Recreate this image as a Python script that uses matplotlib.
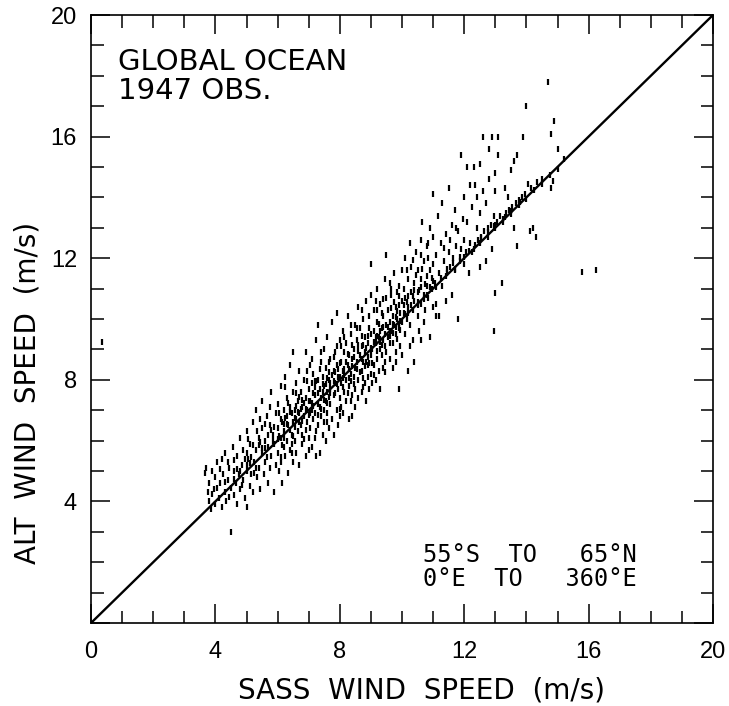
import matplotlib
matplotlib.use("Agg")
import matplotlib.pyplot as plt
import numpy as np

# (SASS wind speed, ALT wind speed) in m/s
obs_low = [
    (3.65, 4.95), (3.7, 5.1), (3.75, 4.3), (3.8, 4.0), (3.8, 4.6), (3.85, 3.75), (3.9, 5.0),
    (3.95, 4.4), (4.0, 3.9), (4.0, 4.8), (4.05, 5.3), (4.1, 4.1), (4.15, 4.6), (4.2, 5.4),
    (4.2, 3.8), (4.25, 4.9), (4.3, 4.3), (4.3, 5.6), (4.35, 4.0), (4.4, 4.7), (4.45, 5.1),
    (4.5, 4.45), (4.55, 5.8), (4.6, 4.2), (4.6, 5.0), (4.65, 4.6), (4.7, 5.5), (4.7, 3.9),
    (4.75, 4.9), (4.8, 6.1), (4.8, 4.4), (4.85, 5.2), (4.9, 4.7), (4.9, 5.7), (4.95, 4.1),
    (5.0, 5.0), (5.0, 6.3), (5.0, 3.8), (5.05, 5.4), (5.1, 4.5), (5.1, 5.9), (5.15, 4.9),
    (5.2, 6.6), (5.2, 4.3), (5.25, 5.3), (5.3, 5.7), (5.3, 7.0), (5.35, 4.8), (5.4, 6.1),
    (5.4, 5.1), (5.45, 4.4), (5.5, 5.6), (5.5, 6.4), (5.5, 7.3), (5.55, 4.9), (5.6, 5.3),
    (5.6, 6.0), (5.65, 6.8), (5.7, 4.6), (5.7, 5.8), (5.75, 5.1), (5.75, 6.5), (5.8, 7.6),
    (5.8, 5.5), (5.85, 6.2), (5.9, 4.3), (5.9, 5.9), (5.95, 6.9), (5.95, 5.2), (4.05, 4.45),
    (4.45, 4.15), (4.85, 4.55), (5.25, 4.95), (5.65, 5.45), (3.9, 4.25), (4.3, 4.65),
    (4.7, 5.05), (5.1, 5.25), (5.5, 5.75), (5.85, 6.0), (4.6, 5.35), (5.0, 5.6), (5.4, 5.85),
    (5.8, 6.35), (4.15, 5.05), (5.2, 5.85), (5.6, 6.55), (4.95, 5.4), (5.35, 6.3),
    (5.75, 7.1), (5.45, 6.7), (5.05, 6.05), (4.4, 5.3),
]

obs_mid = [
    (6.0, 5.6), (6.0, 6.4), (6.0, 7.2), (6.05, 5.0), (6.05, 6.9), (6.1, 6.1), (6.1, 7.8),
    (6.1, 5.3), (6.15, 6.6), (6.15, 4.6), (6.2, 5.8), (6.2, 7.0), (6.2, 6.3), (6.25, 8.1),
    (6.25, 5.5), (6.3, 6.8), (6.3, 6.0), (6.3, 7.4), (6.35, 4.95), (6.35, 6.5), (6.4, 5.7),
    (6.4, 7.1), (6.4, 8.5), (6.45, 6.2), (6.45, 6.9), (6.5, 5.3), (6.5, 7.6), (6.5, 6.6),
    (6.5, 8.9), (6.05, 6.15), (6.15, 5.85), (6.25, 6.75), (6.35, 7.25), (6.45, 5.9),
    (6.2, 6.55), (6.4, 6.35),
    (6.55, 6.0), (6.55, 7.0), (6.6, 5.6), (6.6, 6.7), (6.6, 7.9), (6.65, 6.3), (6.65, 7.3),
    (6.7, 5.2), (6.7, 6.9), (6.7, 8.3), (6.75, 6.5), (6.75, 7.6), (6.8, 5.9), (6.8, 7.1),
    (6.8, 6.2), (6.85, 8.0), (6.85, 6.8), (6.9, 5.5), (6.9, 7.4), (6.9, 8.9), (6.95, 6.6),
    (6.95, 7.0), (7.0, 6.1), (7.0, 7.7), (7.0, 5.7), (6.6, 7.15), (6.7, 7.45), (6.8, 6.65),
    (6.9, 6.35), (6.75, 7.05), (6.85, 7.25), (6.55, 6.45), (7.0, 6.85), (6.95, 7.95),
    (7.05, 6.4), (7.05, 7.3), (7.05, 8.5), (7.1, 5.8), (7.1, 7.0), (7.1, 7.9), (7.15, 6.7),
    (7.15, 8.2), (7.2, 6.1), (7.2, 7.5), (7.2, 6.9), (7.25, 9.3), (7.25, 5.5), (7.3, 7.2),
    (7.3, 8.0), (7.3, 6.5), (7.3, 9.8), (7.35, 7.7), (7.35, 5.6), (7.4, 6.8), (7.4, 8.6),
    (7.4, 7.4), (7.45, 6.2), (7.45, 8.1), (7.5, 7.0), (7.5, 7.8), (7.5, 6.6), (7.5, 9.0),
    (7.1, 7.25), (7.2, 7.75), (7.3, 6.85), (7.4, 7.05), (7.45, 7.6), (7.25, 7.95),
    (7.15, 7.55), (7.35, 8.35),
    (7.55, 7.3), (7.55, 8.4), (7.55, 6.0), (7.6, 7.6), (7.6, 6.9), (7.6, 9.4), (7.65, 8.0),
    (7.65, 6.4), (7.7, 7.2), (7.7, 8.7), (7.7, 7.9), (7.75, 6.7), (7.75, 9.9), (7.8, 7.5),
    (7.8, 8.3), (7.8, 6.2), (7.85, 7.9), (7.85, 8.9), (7.9, 7.0), (7.9, 8.5), (7.9, 10.2),
    (7.95, 7.7), (7.95, 6.5), (8.0, 8.1), (8.0, 7.4), (8.0, 9.3), (8.0, 6.8), (7.6, 8.05),
    (7.7, 7.55), (7.8, 8.75), (7.9, 7.85), (7.65, 7.45), (7.75, 8.15), (7.85, 8.25),
    (7.95, 8.35), (7.55, 7.85),
    (8.05, 7.9), (8.05, 8.6), (8.05, 7.1), (8.1, 8.3), (8.1, 9.6), (8.1, 6.9), (8.15, 7.6),
    (8.15, 8.9), (8.2, 8.0), (8.2, 7.3), (8.2, 9.2), (8.25, 8.5), (8.25, 10.1), (8.3, 7.8),
    (8.3, 8.8), (8.3, 6.7), (8.35, 8.2), (8.35, 9.5), (8.4, 7.5), (8.4, 8.7), (8.4, 6.8),
    (8.45, 9.0), (8.45, 8.1), (8.5, 7.7), (8.5, 8.4), (8.5, 9.8), (8.5, 7.1), (8.1, 8.05),
    (8.2, 8.6), (8.3, 8.35), (8.4, 9.15), (8.15, 8.35), (8.35, 7.95), (8.45, 8.75),
    (8.25, 7.55), (8.05, 9.1),
    (8.55, 8.6), (8.55, 9.3), (8.6, 8.0), (8.6, 10.4), (8.6, 7.4), (8.65, 8.8), (8.65, 9.7),
    (8.7, 8.3), (8.7, 7.6), (8.7, 9.1), (8.75, 8.6), (8.75, 10.0), (8.8, 7.9), (8.8, 9.4),
    (8.8, 8.9), (8.85, 7.3), (8.85, 10.6), (8.9, 8.5), (8.9, 9.2), (8.9, 8.1), (8.95, 9.7),
    (8.95, 7.7), (9.0, 8.8), (9.0, 9.5), (9.0, 10.8), (9.0, 8.2), (8.6, 8.95), (8.7, 9.45),
    (8.8, 8.45), (8.9, 8.75), (8.65, 8.25), (8.75, 9.15), (8.85, 9.05), (8.95, 8.55),
    (9.0, 11.8),
    (9.05, 9.0), (9.05, 7.9), (9.1, 9.6), (9.1, 8.5), (9.1, 10.3), (9.15, 9.2), (9.15, 8.0),
    (9.2, 8.7), (9.2, 9.9), (9.2, 11.0), (9.25, 9.4), (9.25, 8.3), (9.3, 9.0), (9.3, 10.5),
    (9.3, 7.7), (9.35, 9.7), (9.35, 8.8), (9.4, 9.3), (9.4, 10.1), (9.4, 8.4), (9.45, 11.3),
    (9.45, 9.1), (9.5, 8.9), (9.5, 9.8), (9.5, 10.7), (9.5, 12.1), (9.1, 9.25), (9.2, 9.45),
    (9.3, 9.35), (9.4, 9.75), (9.15, 10.6), (9.35, 10.2), (9.45, 8.6), (9.25, 9.85),
    (9.55, 9.4), (9.55, 10.3), (9.6, 8.7), (9.6, 9.9), (9.6, 11.2), (9.65, 9.6), (9.65, 10.8),
    (9.7, 9.2), (9.7, 10.1), (9.7, 8.4), (9.75, 9.8), (9.75, 11.5), (9.8, 9.5), (9.8, 10.4),
    (9.8, 8.9), (9.85, 10.0), (9.85, 10.9), (9.9, 9.7), (9.9, 11.1), (9.9, 7.7), (9.95, 10.2),
    (9.95, 9.1), (10.0, 9.9), (10.0, 10.6), (10.0, 11.6), (10.0, 8.8), (9.6, 9.45),
    (9.7, 9.85), (9.8, 10.05), (9.9, 10.45), (9.65, 10.35), (9.85, 9.35), (9.75, 10.55),
    (9.95, 9.65),
]

obs_core = [
    (4.6, 4.75), (4.8, 5.0), (5.0, 5.2), (5.15, 5.45), (5.3, 5.1), (5.45, 5.95), (5.6, 5.75),
    (5.7, 6.2), (5.9, 6.45), (6.0, 6.05), (6.1, 6.7), (6.2, 6.1), (6.3, 6.55), (6.4, 6.95),
    (6.5, 6.15), (6.55, 6.75), (6.65, 6.95), (6.7, 6.6), (6.8, 7.35), (6.9, 7.05), (7.0, 7.3),
    (7.05, 6.9), (7.15, 7.15), (7.2, 7.95), (7.3, 7.55), (7.35, 7.1), (7.45, 7.85),
    (7.5, 7.35), (7.6, 7.25), (7.65, 8.25), (7.7, 7.7), (7.8, 7.95), (7.85, 7.55),
    (7.95, 8.1), (8.0, 8.55), (8.1, 7.75), (8.15, 8.15), (8.25, 8.85), (8.3, 8.05),
    (8.4, 8.45), (8.45, 7.85), (8.55, 8.35), (8.6, 9.15), (8.7, 8.7), (8.75, 8.05),
    (8.85, 8.6), (8.9, 9.45), (9.0, 9.05), (9.05, 8.55), (9.15, 9.4), (9.2, 8.95), (9.3, 9.6),
    (9.35, 9.15), (9.45, 9.5), (9.55, 9.75), (9.6, 9.2), (9.7, 9.55), (9.8, 9.75),
    (9.85, 10.25), (9.95, 9.95), (10.05, 10.45), (10.1, 10.15), (10.2, 10.75), (10.3, 10.45),
    (10.4, 10.95), (10.5, 10.55), (10.6, 11.05), (10.7, 10.65), (10.8, 11.4), (10.9, 11.05),
    (11.0, 11.25), (6.25, 7.75), (6.6, 7.55), (6.95, 8.3), (7.1, 8.7), (7.4, 8.9),
    (7.65, 8.6), (7.9, 9.1), (8.15, 9.4), (8.35, 9.8), (8.55, 9.7), (8.7, 10.3), (8.95, 10.1),
    (9.2, 10.3), (9.4, 10.65), (9.65, 11.0), (9.9, 10.75), (10.15, 11.6), (10.35, 11.95),
    (10.6, 12.1), (10.85, 12.5), (6.1, 5.45), (6.45, 5.6), (6.85, 6.05), (7.25, 6.3),
    (7.6, 6.6), (8.0, 7.05), (8.35, 7.3), (8.75, 7.75), (9.1, 8.15), (9.45, 8.25), (9.8, 8.6),
    (10.25, 9.1), (10.6, 9.3), (11.1, 10.5),
]

obs_high = [
    (10.05, 10.2), (10.05, 11.0), (10.1, 9.5), (10.1, 10.7), (10.1, 12.0), (10.15, 10.0),
    (10.2, 11.3), (10.2, 8.3), (10.2, 10.4), (10.25, 12.5), (10.25, 9.8), (10.3, 10.9),
    (10.3, 11.7), (10.35, 10.3), (10.35, 9.3), (10.4, 8.6), (10.4, 11.2), (10.4, 10.6),
    (10.45, 12.2), (10.5, 10.1), (10.5, 10.9), (10.5, 11.6), (10.55, 9.6), (10.6, 10.5),
    (10.6, 12.6), (10.6, 11.3), (10.65, 13.2), (10.7, 10.8), (10.7, 9.9), (10.7, 11.9),
    (10.75, 10.3), (10.8, 11.1), (10.8, 12.4), (10.85, 10.7), (10.9, 11.6), (10.9, 9.4),
    (10.9, 13.0), (10.95, 11.0), (11.0, 10.4), (11.0, 11.8), (11.0, 12.7), (11.0, 14.1),
    (10.15, 10.55), (10.35, 10.75), (10.55, 10.95), (10.75, 11.15), (10.95, 11.35),
    (10.45, 11.45), (10.65, 11.65), (10.85, 12.0),
    (11.05, 11.2), (11.1, 12.1), (11.1, 10.1), (11.15, 13.4), (11.2, 11.5), (11.2, 10.1),
    (11.25, 12.5), (11.3, 11.1), (11.3, 13.8), (11.35, 11.9), (11.4, 12.8), (11.4, 10.6),
    (11.45, 11.5), (11.5, 14.3), (11.5, 12.2), (11.55, 11.7), (11.6, 13.1), (11.6, 10.8),
    (11.65, 12.0), (11.7, 11.6), (11.7, 13.6), (11.75, 12.4), (11.8, 10.0), (11.8, 12.9),
    (11.85, 11.9), (11.9, 15.4), (11.9, 12.3), (11.95, 13.3), (12.0, 11.8), (12.0, 12.6),
    (12.0, 14.0), (11.25, 11.35), (11.45, 11.65), (11.65, 11.85), (11.85, 12.05),
    (11.35, 12.35), (11.55, 12.6), (11.75, 13.0),
    (12.05, 12.2), (12.1, 15.0), (12.1, 13.2), (12.15, 11.5), (12.2, 12.5), (12.2, 14.4),
    (12.25, 13.7), (12.3, 15.0), (12.3, 12.3), (12.35, 14.4), (12.4, 13.0), (12.45, 12.6),
    (12.5, 11.7), (12.5, 15.1), (12.5, 13.5), (12.55, 12.7), (12.6, 16.0), (12.6, 14.2),
    (12.65, 12.9), (12.7, 13.8), (12.7, 11.9), (12.75, 13.0), (12.8, 15.6), (12.8, 14.6),
    (12.85, 13.1), (12.9, 16.0), (12.9, 12.3), (12.95, 13.4), (13.0, 14.8), (13.0, 14.2),
    (13.0, 10.85), (13.0, 13.1), (12.15, 12.25), (12.35, 12.45), (12.55, 12.65),
    (12.75, 12.85), (12.95, 13.05), (12.4, 14.0),
    (13.05, 13.2), (13.1, 16.0), (13.1, 15.4), (13.15, 13.4), (13.2, 11.2), (13.25, 13.3),
    (13.3, 14.3), (13.35, 13.5), (13.4, 14.0), (13.45, 13.6), (13.5, 14.9), (13.55, 13.7),
    (13.6, 13.0), (13.6, 15.2), (13.65, 13.8), (13.7, 12.4), (13.7, 15.4), (13.75, 13.9),
    (13.85, 14.0), (13.9, 16.0), (13.95, 14.1), (14.0, 17.0), (14.05, 14.45), (14.1, 12.9),
    (14.15, 14.3), (14.2, 13.0), (14.3, 12.7), (14.35, 14.5), (14.5, 14.6), (14.7, 17.8),
    (14.8, 16.1), (14.8, 14.3), (14.85, 14.55), (14.9, 16.5), (15.0, 15.6), (13.3, 13.35),
    (13.5, 13.55), (13.8, 13.85),
]

# observations lying right on the 1:1 line (thicken it between 9 and 15 m/s)
obs_on_line = [
    (9.0, 9.0), (9.3, 9.25), (9.6, 9.6), (9.9, 9.85), (10.2, 10.2), (10.5, 10.45),
    (10.8, 10.8), (11.1, 11.05), (11.4, 11.4), (11.7, 11.65), (12.0, 12.05), (12.25, 12.2),
    (12.5, 12.5), (12.75, 12.7), (13.0, 13.0), (13.25, 13.2), (13.5, 13.45), (13.75, 13.75),
    (14.0, 13.95), (14.25, 14.25), (14.5, 14.45), (14.75, 14.75), (15.0, 14.95), (15.2, 15.25),
]

obs_outliers = [(15.8, 11.55), (16.25, 11.6), (12.95, 9.6), (4.5, 3.0), (0.35, 9.25)]

x_ticks = [0, 4, 8, 12, 16, 20]
y_ticks = [0, 4, 8, 12, 16, 20]
y_ticklabels = ["", "4", "8", "12", "16", "20"]

fig = plt.figure(figsize=(7.29, 7.06), dpi=100)
ax = fig.add_axes([91 / 729, 1 - 623 / 706, 622 / 729, 608 / 706])

obs = np.array(obs_low + obs_mid + obs_core + obs_high + obs_on_line + obs_outliers)
ax.plot(obs[:, 0], obs[:, 1], linestyle="none", marker="|", ms=5, mew=1.6,
        color="black")
ax.plot([0, 20], [0, 20], color="black", lw=1.7)

ax.set_xlim(0, 20)
ax.set_ylim(0, 20)
ax.set_xticks(x_ticks)
ax.set_yticks(y_ticks)
ax.set_yticklabels(y_ticklabels)
ax.set_xticks(np.arange(0, 21, 1), minor=True)
ax.set_yticks(np.arange(0, 21, 1), minor=True)
ax.tick_params(which="both", direction="in", top=True, right=True, width=1.1,
               color="black")
ax.tick_params(which="major", length=14)
ax.tick_params(which="minor", length=9)
ax.tick_params(axis="x", which="major", pad=13, labelsize=17)
ax.tick_params(axis="y", which="major", pad=10, labelsize=17)
for lab in ax.get_xticklabels() + ax.get_yticklabels():
    lab.set_family("Liberation Sans")
for sp in ax.spines.values():
    sp.set_linewidth(1.2)

ax.text(0.87, 18.47, "GLOBAL OCEAN", fontsize=21, family="DejaVu Sans", va="center")
ax.text(0.87, 17.5, "1947 OBS.", fontsize=21, family="DejaVu Sans", va="center")

ax.text(10.68, 2.23, "55°S  TO   65°N", fontsize=17, family="DejaVu Sans Mono",
        va="center")
ax.text(10.68, 1.44, "0°E  TO   360°E", fontsize=17, family="DejaVu Sans Mono",
        va="center")

fig.text(421 / 729, 1 - 690 / 706, "SASS  WIND  SPEED  (m/s)", fontsize=20,
         family="DejaVu Sans", ha="center", va="center")
fig.text(28 / 729, 1 - 393 / 706, "ALT  WIND  SPEED  (m/s)", fontsize=20,
         family="DejaVu Sans", ha="center", va="center", rotation=90)

fig.savefig("out.png", dpi=100)
